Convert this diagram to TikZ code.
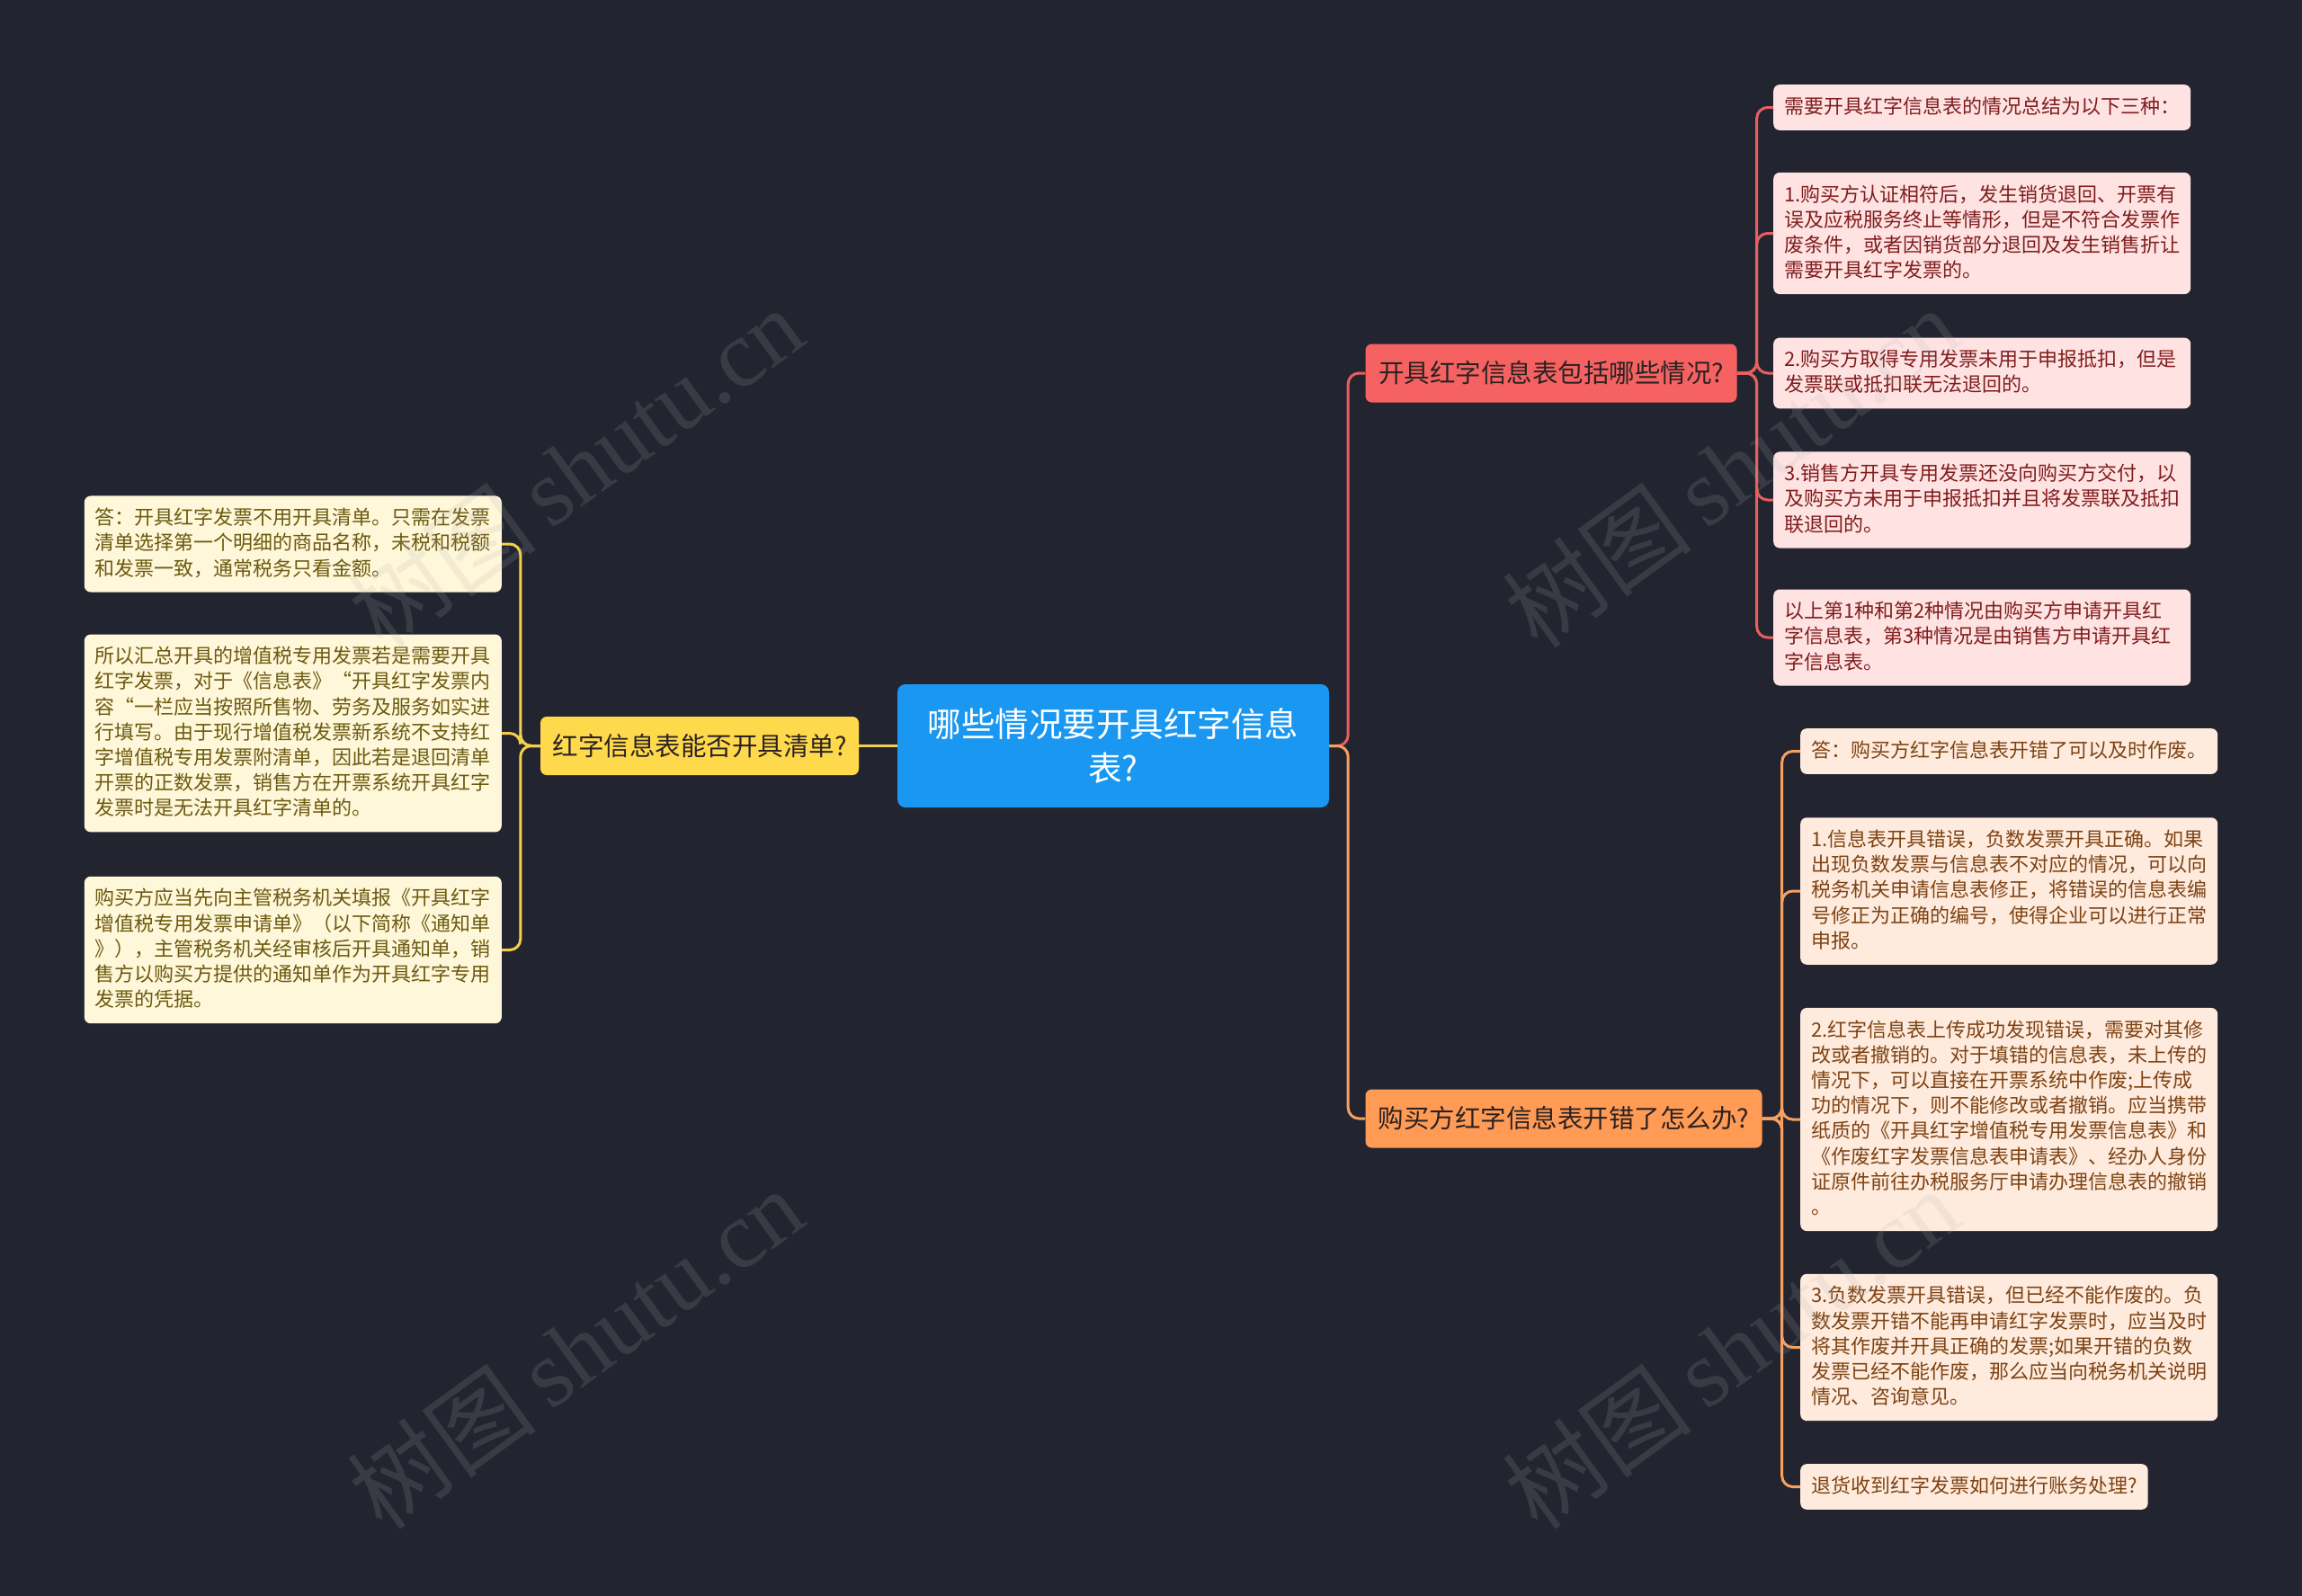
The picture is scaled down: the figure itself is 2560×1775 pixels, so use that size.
\documentclass[tikz,border=0pt]{standalone}
\usepackage{fontspec}
\setmainfont{Noto Sans CJK SC}
\newfontfamily\wmfont{Liberation Serif}
\newfontfamily\wmcjk{Noto Sans CJK SC}
\definecolor{bgc}{HTML}{22252F}
\definecolor{rootc}{HTML}{1A97F0}
\definecolor{redm}{HTML}{F66262}
\definecolor{orgm}{HTML}{FF9B55}
\definecolor{yelm}{HTML}{FFD94C}
\definecolor{redl}{HTML}{FFE3E3}
\definecolor{orgl}{HTML}{FFEBDD}
\definecolor{yell}{HTML}{FFF7D9}
\definecolor{redt}{HTML}{801D1D}
\definecolor{orgt}{HTML}{7D4314}
\definecolor{yelt}{HTML}{6B5A10}
\definecolor{redw}{HTML}{E85F5F}
\definecolor{orgw}{HTML}{F7A060}
\definecolor{yelw}{HTML}{F4D04A}
\definecolor{maint}{HTML}{2A2222}
\newcommand\lfstrut{\rule[-5pt]{0pt}{21.5pt}}
\tikzset{
  leafbox/.style={rounded corners=7pt, inner xsep=12pt, inner ysep=13.5pt,
    align=left, execute at begin node=\lfstrut, execute at end node=\lfstrut,
    font=\fontsize{22}{28.2}\selectfont},
  wleaf/.style={leafbox, text width=440pt},
  rleaf/.style={wleaf, fill=redl, text=redt, anchor=west},
  oleaf/.style={wleaf, fill=orgl, text=orgt, anchor=west},
  yleaf/.style={wleaf, fill=yell, text=yelt, anchor=east},
  mainbox/.style={rounded corners=7pt, minimum height=65pt, inner sep=0pt,
    text=maint, font=\fontsize{28.5}{32}\selectfont},
  conn/.style={line width=3pt, rounded corners=12pt},
  wmark/.style={text=gray!60, opacity=0.16, rotate=36, font=\fontsize{106}{110}\selectfont}
}
\begin{document}
\begin{tikzpicture}[x=1pt,y=-1pt]
\fill[bgc] (0,0) rectangle (2560,1775);
\useasboundingbox (0,0) rectangle (2560,1775);

% root
\node[rounded corners=9pt, fill=rootc, text=white, minimum width=480pt, minimum height=137pt,
  inner sep=0pt, align=center, font=\fontsize{37.5}{49}\selectfont] (root) at (1238,829.5)
  {哪些情况要开具红字信息\\表?};

% main branches
\node[mainbox, fill=yelm, minimum width=354pt] (ym) at (778,829.5) {红字信息表能否开具清单?};
\node[mainbox, fill=redm, minimum width=413pt] (rm) at (1725,415) {开具红字信息表包括哪些情况?};
\node[mainbox, fill=orgm, minimum width=441pt] (om) at (1739,1244) {购买方红字信息表开错了怎么办?};

% red leaves
\node[rleaf] (r1) at (1972,119.5) {需要开具红字信息表的情况总结为以下三种：};
\node[rleaf] (r2) at (1972,259.5) {1.购买方认证相符后，发生销货退回、开票有\\误及应税服务终止等情形，但是不符合发票作\\废条件，或者因销货部分退回及发生销售折让\\需要开具红字发票的。};
\node[rleaf] (r3) at (1972,415) {2.购买方取得专用发票未用于申报抵扣，但是\\发票联或抵扣联无法退回的。};
\node[rleaf] (r4) at (1972,556) {3.销售方开具专用发票还没向购买方交付，以\\及购买方未用于申报抵扣并且将发票联及抵扣\\联退回的。};
\node[rleaf] (r5) at (1972,709) {以上第1种和第2种情况由购买方申请开具红\\字信息表，第3种情况是由销售方申请开具红\\字信息表。};

% orange leaves
\node[oleaf] (o1) at (2002,835.5) {答：购买方红字信息表开错了可以及时作废。};
\node[oleaf] (o2) at (2002,991) {1.信息表开具错误，负数发票开具正确。如果\\出现负数发票与信息表不对应的情况，可以向\\税务机关申请信息表修正，将错误的信息表编\\号修正为正确的编号，使得企业可以进行正常\\申报。};
\node[oleaf] (o3) at (2002,1245) {2.红字信息表上传成功发现错误，需要对其修\\改或者撤销的。对于填错的信息表，未上传的\\情况下，可以直接在开票系统中作废;上传成\\功的情况下，则不能修改或者撤销。应当携带\\纸质的《开具红字增值税专用发票信息表》和\\《作废红字发票信息表申请表》、经办人身份\\证原件前往办税服务厅申请办理信息表的撤销\\。};
\node[oleaf] (o4) at (2002,1498.5) {3.负数发票开具错误，但已经不能作废的。负\\数发票开错不能再申请红字发票时，应当及时\\将其作废并开具正确的发票;如果开错的负数\\发票已经不能作废，那么应当向税务机关说明\\情况、咨询意见。};
\node[leafbox, fill=orgl, text=orgt, anchor=west] (o5) at (2002,1653.5) {退货收到红字发票如何进行账务处理?};

% yellow leaves
\node[yleaf] (y1) at (558,605) {答：开具红字发票不用开具清单。只需在发票\\清单选择第一个明细的商品名称，未税和税额\\和发票一致，通常税务只看金额。};
\node[yleaf] (y2) at (558,815.5) {所以汇总开具的增值税专用发票若是需要开具\\红字发票，对于《信息表》“开具红字发票内\\容“一栏应当按照所售物、劳务及服务如实进\\行填写。由于现行增值税发票新系统不支持红\\字增值税专用发票附清单，因此若是退回清单\\开票的正数发票，销售方在开票系统开具红字\\发票时是无法开具红字清单的。};
\node[yleaf] (y3) at (558,1056.5) {购买方应当先向主管税务机关填报《开具红字\\增值税专用发票申请单》（以下简称《通知单\\》），主管税务机关经审核后开具通知单，销\\售方以购买方提供的通知单作为开具红字专用\\发票的凭据。};

% connectors root
\draw[conn, yelw] (root.west) -- (ym.east);
\draw[conn, redw] (root.east) -- ++(21,0) |- (rm.west);
\draw[conn, orgw] (root.east) -- ++(21,0) |- (om.west);

% red
\foreach \n in {r1,r2,r3,r4,r5}
  \draw[conn, redw] (rm.east) -- ++(22,0) |- (\n.west);
% orange
\foreach \n in {o1,o2,o3,o4,o5}
  \draw[conn, orgw] (om.east) -- ++(22,0) |- (\n.west);
% yellow
\foreach \n in {y1,y2,y3}
  \draw[conn, yelw] (ym.west) -- ++(-22,0) |- (\n.east);

% watermarks
\node[wmark] at (640,520) {\wmcjk 树图\,\wmfont shutu.cn};
\node[wmark] at (640,1500) {\wmcjk 树图\,\wmfont shutu.cn};
\node[wmark] at (1925,520) {\wmcjk 树图\,\wmfont shutu.cn};
\node[wmark] at (1925,1500) {\wmcjk 树图\,\wmfont shutu.cn};
\end{tikzpicture}
\end{document}
